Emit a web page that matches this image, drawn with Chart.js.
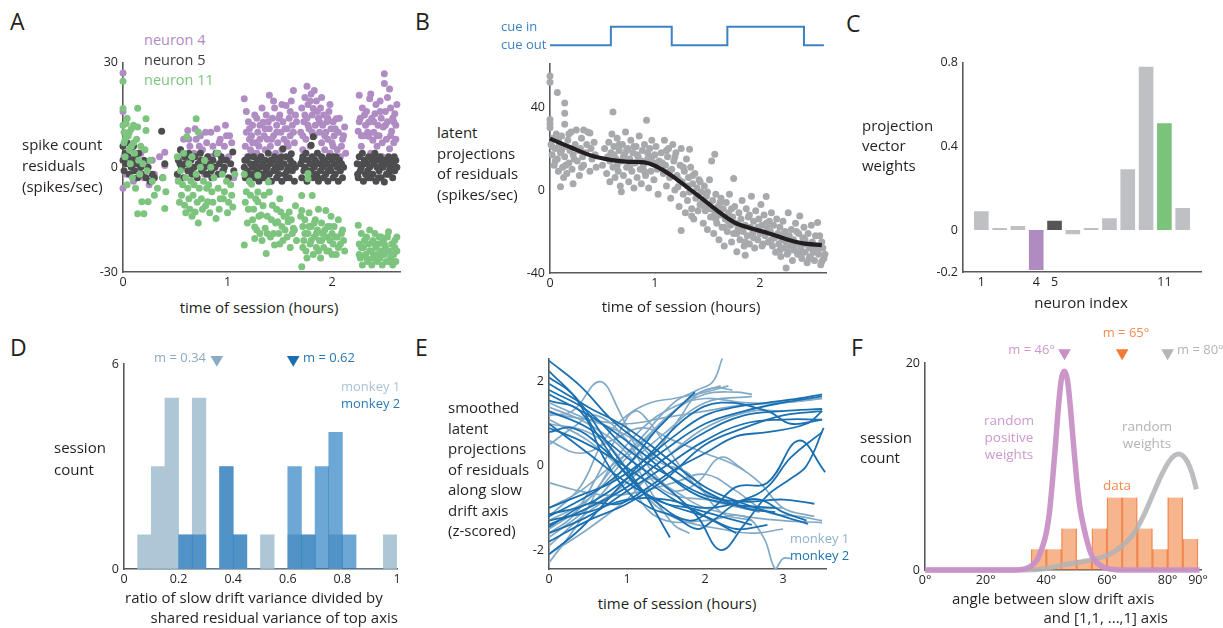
<!DOCTYPE html>
<html><head><meta charset="utf-8">
<script src="https://cdn.jsdelivr.net/npm/chart.js@4.4.1/dist/chart.umd.min.js"></script>
<style>
html,body{margin:0;padding:0;background:#fff;}
body{width:1223px;height:628px;position:relative;overflow:hidden;font-family:'Open Sans',sans-serif;color:#231f20;}
canvas{position:absolute;}
.t{position:absolute;white-space:nowrap;line-height:1.2;}
</style></head><body>
<canvas id="cA"></canvas><canvas id="cCue"></canvas><canvas id="cB"></canvas><canvas id="cC"></canvas>
<canvas id="cD"></canvas><canvas id="cE"></canvas><canvas id="cF"></canvas>
<div id="labels"></div>
<script>
// ---------- Panel A data: [hours, spikes/sec] ----------
const neuron4 = [[0.00,27],[0.00,16],[0.00,-6],[0.01,3],[0.03,-2],[0.05,1],[0.08,5],[0.10,-4],[0.12,2],[0.15,-1],[0.17,4],[0.20,-3],[0.22,1],[0.25,-5],[0.28,2],[0.30,-2],[0.35,3],[0.40,0.5],[0.40,4.3],
[0.53,-3.7],[0.55,5],[0.58,8],[0.60,2],[0.62,10.5],[0.64,6],[0.66,-1],[0.68,4],[0.70,8],[0.72,1],[0.74,9],[0.76,5],[0.78,-2],[0.80,7],[0.82,3],[0.84,10],[0.86,6],[0.88,0],[0.90,11],[0.91,4],[0.93,8],[0.95,-1],[0.97,6],[0.99,9],[1.01,3],[1.04,7],[1.06,-3],
[0.57,4],[0.63,8],[0.69,11],[0.73,6],[0.79,10],[0.85,3],[0.92,7],[0.98,12],[1.02,9],
[1.16,19.6],[1.17,6],[1.18,10],[1.19,3],[1.20,13],[1.21,8],[1.22,5],[1.23,9],[1.24,12],[1.25,4],[1.27,7],[1.28,14],[1.29,10],[1.30,6],[1.31,12],[1.32,3],[1.34,12.9],[1.35,9],[1.36,5],[1.37,15],[1.38,8],[1.40,20.6],[1.40,11],[1.41,6],[1.43,14],[1.44,9],[1.45,17],[1.46,4],[1.47,12],[1.48,7],[1.50,15],[1.51,10],[1.52,5],[1.53,13],[1.54,8],[1.56,17.7],[1.57,11],[1.58,6],[1.59,14],[1.60,9],[1.61,19],[1.62,12],[1.63,22],[1.64,7],[1.65,15],
[1.18,16],[1.21,11],[1.24,7],[1.26,15],[1.28,4],[1.31,8],[1.33,17],[1.36,11],[1.39,13],[1.42,8],[1.44,19],[1.47,10],[1.49,14],[1.52,18],[1.55,11],[1.57,7],[1.60,16],[1.63,10],[1.66,13],
[1.70,10],[1.71,17],[1.72,5],[1.73,13],[1.74,20],[1.75,8],[1.76,23.2],[1.76,14],[1.77,18],[1.78,11],[1.79,6],[1.80,21],[1.81,15],[1.82,16.8],[1.83,9],[1.84,12],[1.85,19],[1.86,4],[1.87,14],[1.88,10],[1.89,17],[1.90,7],[1.91,12],[1.92,15],[1.93,5],[1.94,10],[1.95,13],[1.96,8],[1.97,16],[1.98,4],[1.99,11],[2.00,7],[2.01,13],[2.02,9],[2.04,13.9],[2.05,5],[2.06,10],[2.08,3],[2.10,8],[2.12,11.5],[2.13,4],
[1.72,9],[1.74,15],[1.77,12],[1.79,19],[1.81,10],[1.83,22],[1.86,16],[1.88,13],[1.90,20],[1.93,9],[1.96,14],[1.98,18],[2.01,6],[2.03,11],[2.07,14],[2.09,6],[2.11,9],
[2.25,10.3],[2.26,20.6],[2.27,14],[2.28,6],[2.29,17],[2.30,9],[2.32,12],[2.33,16],[2.35,8.9],[2.35,12.9],[2.36,19.6],[2.37,4],[2.38,14],[2.39,7.7],[2.40,10],[2.41,15.3],[2.42,18],[2.43,6],[2.44,12],[2.45,9],[2.46,19],[2.47,14],[2.48,3],[2.49,11.5],[2.50,26.8],[2.50,24],[2.51,16],[2.52,8],[2.53,13],[2.54,1.5],[2.55,22.4],[2.55,5.3],[2.56,17],[2.57,10.3],[2.58,14],[2.59,7],[2.60,15.3],[2.61,12],[2.62,18],
[2.26,13],[2.28,9],[2.31,15],[2.34,10],[2.37,21],[2.40,13],[2.43,9],[2.46,16],[2.48,7],[2.51,12],[2.53,20],[2.56,9],[2.59,13],[2.61,8]];
const neuron5 = [[0.00,6],[0.00,2],[0.01,-1],[0.02,4],[0.03,1],[0.04,7],[0.05,3],[0.06,-2],[0.07,5],[0.08,0],[0.09,2],[0.10,6],[0.11,-1],[0.12,3],[0.13,1],[0.14,-3],[0.15,4],[0.17,0],[0.18,-2],[0.20,2],[0.22,-3],[0.24,0],[0.26,-4],[0.28,-2],[0.30,-3],[0.37,10.3],[0.38,-3],[0.40,1],
[0.52,-2],[0.53,2],[0.55,5],[0.56,0],[0.58,-3],[0.59,3],[0.60,1],[0.62,-1],[0.63,4],[0.65,2],[0.66,-2],[0.68,0],[0.69,3],[0.71,-3],[0.72,1],[0.74,4],[0.75,-1],[0.77,2],[0.78,0],[0.80,-2],[0.81,3],[0.83,1],[0.85,-3],[0.86,2],[0.88,0],[0.89,4],[0.91,-2],[0.92,1],[0.94,3],[0.96,-1],[0.97,0],[0.99,2],[1.01,-3],[1.03,1],[1.05,4.4],[1.06,-1],
[0.545,1],[0.645,-1],[0.745,2],[0.845,-1],[0.945,2],
[1.16,0],[1.17,-3],[1.18,2],[1.19,-1],[1.20,3],[1.21,-4],[1.22,1],[1.23,-2],[1.24,0],[1.25,3],[1.26,-3],[1.27,1],[1.28,-1],[1.29,2],[1.30,-4],[1.31,0],[1.32,3],[1.33,-2],[1.34,1],[1.35,-3],[1.36,2],[1.37,-1],[1.38,0],[1.39,4],[1.40,-2],[1.41,1],[1.42,-4],[1.43,2],[1.44,-1],[1.45,3],[1.46,0],[1.47,-3],[1.48,1],[1.49,-2],[1.50,2],[1.51,0],[1.52,-4],[1.53,5.3],[1.54,1],[1.55,-2],[1.56,3],[1.57,-1],[1.58,0],[1.59,-3],[1.60,2],[1.61,3.9],[1.62,-1],[1.63,1],[1.64,-4],[1.65,0],
[1.165,2],[1.215,-2],[1.265,1],[1.315,-2],[1.365,0],[1.415,2],[1.465,-1],[1.515,3],[1.565,-3],[1.615,1],
[1.70,1],[1.71,-3],[1.72,3],[1.73,-1],[1.74,0],[1.75,4],[1.76,-4],[1.77,2],[1.78,-2],[1.79,1],[1.80,6.3],[1.80,-1],[1.81,3],[1.82,8.7],[1.82,-3],[1.83,0],[1.84,2],[1.85,-2],[1.86,4],[1.87,-4],[1.88,1],[1.89,-1],[1.90,3],[1.91,0],[1.92,-3],[1.93,2],[1.94,-2],[1.95,1],[1.96,-4],[1.97,3],[1.98,0],[1.99,-1],[2.00,2],[2.01,-3],[2.02,1],[2.03,-2],[2.04,3],[2.05,0],[2.06,-4],[2.07,2],[2.08,-1],[2.09,1],[2.10,-3],[2.11,0],
[1.715,2],[1.765,-1],[1.815,1],[1.865,-3],[1.915,2],[1.965,-1],[2.015,3],[2.065,1],
[2.24,1],[2.25,-3],[2.26,3],[2.27,-1],[2.28,0],[2.29,4],[2.30,-4],[2.31,2],[2.32,-2],[2.33,1],[2.34,-1],[2.35,3],[2.36,0],[2.37,-3],[2.38,2],[2.39,-2],[2.40,1],[2.41,4],[2.42,-4],[2.43,0],[2.44,2],[2.45,-1],[2.46,3],[2.47,-3],[2.48,1],[2.49,0],[2.50,-4.2],[2.51,2],[2.52,-2],[2.53,1],[2.54,3],[2.55,-1],[2.56,0],[2.57,2],[2.58,-3],[2.59,1],[2.60,-1],[2.61,2],[2.62,0],
[2.245,-2],[2.295,1],[2.345,-3],[2.395,3],[2.445,-3],[2.495,2],[2.545,-2],[2.595,3]];
const neuron11 = [[0.00,24.6],[0.00,16.8],[0.00,12],[0.01,10],[0.01,7],[0.02,3],[0.03,12.5],[0.04,-5],[0.05,9],[0.06,5],[0.07,1],[0.08,11],[0.09,-3],[0.10,7],[0.11,4],[0.12,-6],[0.14,16.9],[0.14,11.5],[0.14,-13.3],[0.15,2],[0.16,-2],[0.18,-9.9],[0.20,-13.3],[0.21,5],[0.22,13.9],[0.22,10.5],[0.23,-1],[0.24,-9.9],[0.26,2],[0.28,-4],[0.30,-8],[0.33,-6],[0.38,-3],[0.40,-11.8],[0.41,-7],
[0.02,8],[0.04,14],[0.06,10],[0.08,6],[0.10,12],[0.13,8],[0.17,6],[0.19,1],
[0.52,3],[0.53,-4],[0.55,-1],[0.56,-8],[0.58,4],[0.59,-10.9],[0.60,-3],[0.61,8.7],[0.62,-6],[0.63,1],[0.64,-12],[0.65,-4],[0.66,3],[0.67,-8],[0.69,-12.8],[0.70,13.9],[0.70,-2],[0.72,10.1],[0.72,-16],[0.73,-6],[0.74,0],[0.75,-9],[0.77,-4],[0.78,2],[0.79,-11],[0.81,-9.9],[0.82,-5],[0.84,0],[0.85,-7],[0.87,-3],[0.89,-14.7],[0.90,4],[0.91,-6],[0.93,-9],[0.95,-2],[0.97,-7],[0.99,-4],[1.01,-10],[1.03,-5],[1.05,-11.4],[1.07,-2],
[0.54,-10],[0.57,-5],[0.60,-13],[0.63,-9],[0.66,-14],[0.68,-5],[0.71,-10],[0.76,-12],[0.80,-6],[0.83,-13],[0.86,-10],[0.92,-12],[0.96,-9],[1.00,-13],[1.04,-8],
[1.16,-22.3],[1.16,-2],[1.18,-7],[1.20,-12],[1.21,-4],[1.23,-4.9],[1.24,-15],[1.26,-20.4],[1.26,-17.1],[1.27,-9],[1.29,-2.3],[1.29,-7.1],[1.29,-9.9],[1.31,-19],[1.32,-13.7],[1.34,-11],[1.36,-17.5],[1.37,-24.7],[1.38,-14],[1.39,-4.2],[1.40,-7.1],[1.41,-20],[1.43,-10.9],[1.45,-22.3],[1.46,-16],[1.48,-15.6],[1.49,-19],[1.50,-9],[1.51,-12.8],[1.53,-21],[1.55,-18],[1.56,-14],[1.58,-15.6],[1.59,-12.8],[1.60,-23],[1.62,-19],[1.63,-17.5],[1.65,-11],[1.66,-21],
[1.17,-10],[1.19,-16],[1.22,-8],[1.25,-12],[1.28,-18],[1.30,-14],[1.33,-21],[1.35,-8],[1.38,-19],[1.42,-15],[1.44,-19],[1.47,-12],[1.50,-22],[1.52,-17],[1.54,-14],[1.57,-20],[1.61,-15],[1.64,-18],
[1.71,-8.1],[1.71,-12.4],[1.71,-28.5],[1.72,-17],[1.73,-21],[1.74,-15],[1.75,-24],[1.77,-1.8],[1.77,-3.3],[1.77,-19],[1.78,-13],[1.79,-22],[1.80,-17],[1.81,-8.1],[1.82,-25],[1.83,-20],[1.84,-15],[1.85,-23],[1.86,-18],[1.87,-12],[1.88,-21],[1.89,-26],[1.90,-16],[1.91,-19],[1.92,-23],[1.94,-12.4],[1.95,-20],[1.96,-17],[1.97,-24],[1.98,-21],[1.99,-14],[2.00,-19],[2.01,-22],[2.02,-17],[2.04,-25],[2.05,-20],[2.06,-15],[2.08,-22],[2.10,-18],[2.12,-24],
[1.70,-14],[1.72,-23],[1.74,-19],[1.76,-26],[1.78,-17],[1.80,-21],[1.83,-16],[1.85,-19],[1.87,-24],[1.90,-21],[1.93,-18],[1.95,-24],[1.98,-17],[2.00,-25],[2.03,-20],[2.06,-23],[2.09,-19],[2.11,-21],
[2.25,-16.6],[2.26,-22],[2.27,-26],[2.28,-19],[2.29,-28],[2.30,-23],[2.32,-25],[2.33,-20],[2.34,-27],[2.35,-22],[2.36,-18],[2.37,-24],[2.38,-28],[2.39,-21],[2.40,-25],[2.41,-19],[2.42,-23],[2.43,-27],[2.44,-22],[2.45,-20],[2.46,-26],[2.47,-24],[2.48,-28],[2.49,-21],[2.50,-25],[2.51,-23],[2.52,-27],[2.53,-20],[2.54,-18.5],[2.55,-24],[2.56,-26],[2.57,-22],[2.58,-28],[2.59,-25],[2.60,-21],[2.61,-27],[2.62,-24],
[2.26,-25],[2.28,-23],[2.31,-21],[2.33,-26],[2.36,-24],[2.39,-26],[2.41,-22],[2.44,-25],[2.47,-20],[2.50,-22],[2.52,-24],[2.55,-27],[2.57,-25],[2.60,-23],[2.62,-20]];
const aXTicks = [0,1,2];
const aYTicks = [-30,0,30];

// ---------- Panel B data ----------
const latentPoints = [[0.00,55],[0.00,52],[0.00,34],[0.00,32],[0.00,30],[0.01,22],[0.02,17],[0.03,25],[0.04,12],[0.05,20],[0.06,27],[0.07,47],[0.07,15],[0.08,9],[0.09,22],[0.10,18],[0.10,1.6],[0.11,26],[0.12,11],[0.13,6],[0.14,42],[0.14,37],[0.14,31.7],[0.14,16],[0.15,21],[0.16,8],[0.17,24],[0.18,13],[0.19,19],[0.20,28],[0.21,10],[0.22,3],[0.22,17],[0.24,22],[0.25,29],[0.26,14],[0.28,7],[0.29,20],[0.30,25],[0.30,10.9],[0.32,29],[0.32,12],[0.34,18],[0.36,28],[0.38,9],[0.38,27.5],[0.40,15],[0.42,23],[0.44,11],
[0.02,21],[0.05,14],[0.08,24],[0.11,19],[0.15,12],[0.18,27],[0.23,15],[0.27,19],[0.31,16],[0.35,22],[0.39,20],[0.43,17],
[0.50,12],[0.52,20],[0.54,8],[0.55,16],[0.56,23],[0.57,4],[0.58,18],[0.59,27],[0.60,37.6],[0.60,11],[0.61,21],[0.62,6],[0.63,15],[0.64,25],[0.65,9],[0.66,19],[0.67,2],[0.68,-0.8],[0.68,14],[0.69,22],[0.70,7],[0.71,17],[0.72,28],[0.73,11],[0.74,20],[0.75,4],[0.76,15],[0.77,24],[0.78,9],[0.79,18],[0.80,1],[0.81,13],[0.82,21],[0.83,6],[0.84,16],[0.85,26],[0.86,10],[0.87,3],[0.88,19],[0.89,12],[0.90,22],[0.91,7],[0.92,33.7],[0.93,15],[0.94,1],[0.95,20],[0.96,9],[0.97,24],[0.98,13],[0.99,5],[1.00,17],[1.01,21],[1.02,10],[1.03,-2],[1.04,14],
[0.57,14],[0.61,17],[0.64,12],[0.66,22],[0.70,16],[0.73,19],[0.76,11],[0.80,21],[0.83,17],[0.87,14],[0.90,9],[0.93,18],[0.97,16],[1.01,13],
[1.06,18],[1.08,8],[1.09,24],[1.10,12],[1.11,2],[1.12,16],[1.13,20],[1.14,6],[1.15,-4],[1.16,10],[1.17,22],[1.18,14],[1.19,0],[1.20,18],[1.21,7],[1.22,1.6],[1.23,-8],[1.24,12],[1.25,20],[1.25,-19.5],[1.26,4],[1.27,-2],[1.28,9],[1.29,-11],[1.30,15],[1.31,-5],[1.32,6],[1.33,19.6],[1.33,-1],[1.34,11],[1.35,-9],[1.35,-12.5],[1.36,3],[1.37,-14],[1.38,8],[1.39,-4],[1.40,1],[1.41,-10],[1.42,5],[1.43,-7],[1.44,-1],
[1.07,13],[1.11,19],[1.14,9],[1.19,16],[1.23,5],[1.27,11],[1.31,2],[1.36,7],[1.40,-3],[1.43,4],
[1.45,-6],[1.46,-16],[1.47,2],[1.48,-10],[1.49,-3],[1.50,-19],[1.51,-8],[1.52,5],[1.53,-13],[1.54,14],[1.55,-5],[1.56,-21],[1.57,17.3],[1.57,-11],[1.58,-2],[1.59,-16],[1.60,-8],[1.61,-24],[1.62,-12],[1.63,-4],[1.64,-18],[1.65,-9],[1.66,-27],[1.67,-14],[1.68,-6],[1.69,-20],[1.70,-11],[1.71,-2],[1.72,-17],[1.73,-25],[1.74,-13],[1.75,5.5],[1.75,-21],[1.76,-8],[1.77,-16],[1.78,-29.8],[1.79,-19],[1.80,-11],[1.81,-24],[1.82,-14],[1.83,-5],[1.84,-20],[1.85,-27],[1.86,-31.4],[1.86,-17],[1.87,-9],[1.88,-22],[1.89,-13],[1.90,-26],[1.91,-18],[1.92,-3],[1.93,-21],[1.94,-15],[1.95,-28],[1.96,-10],[1.97,-19],[1.98,-24],[1.99,-14],[2.00,-21],[2.01,-7],[2.02,-17],[2.03,-26],[2.04,-12],[2.05,-22],[2.06,-3.1],[2.07,-18],[2.08,-25],[2.09,-15],
[1.47,-8],[1.50,-1],[1.53,-9],[1.58,-14],[1.62,-6],[1.66,-18],[1.70,-15],[1.73,-9],[1.78,-21],[1.82,-19],[1.86,-25],[1.90,-12],[1.94,-23],[1.98,-18],[2.02,-27],[2.06,-16],
[2.10,-20],[2.11,-11],[2.12,-27],[2.13,-17],[2.14,-23],[2.15,-30],[2.16,-14],[2.17,-21],[2.18,-26],[2.19,-18],[2.20,-32],[2.21,-24],[2.22,-15],[2.23,-28],[2.24,-20],[2.25,-37.6],[2.25,-25],[2.26,-31],[2.27,-11],[2.28,-22],[2.29,-27],[2.30,-19],[2.31,-34],[2.32,-24],[2.33,-29],[2.34,-16],[2.35,-26],[2.36,-31],[2.37,-21],[2.38,-12.5],[2.39,-28],[2.40,-33],[2.41,-23],[2.42,-18],[2.43,-30],[2.44,-26],[2.45,-35],[2.46,-21],[2.47,-28],[2.48,-32],[2.49,-17],[2.50,-25],[2.51,-30],[2.52,-34],[2.53,-22],[2.54,-27],[2.55,-15.7],[2.56,-31],[2.57,-22],[2.58,-36],[2.59,-34.5],[2.60,-28],[2.61,-33],
[2.11,-24],[2.15,-22],[2.19,-29],[2.23,-21],[2.27,-30],[2.31,-27],[2.35,-20],[2.39,-31],[2.43,-24],[2.47,-33],[2.51,-27],[2.55,-29],[2.59,-25],[2.62,-31]];
const smoothTimes = [0,0.2,0.4,0.59,0.75,0.9,1.0,1.16,1.29,1.44,1.6,1.76,1.92,2.08,2.24,2.4,2.59];
const smoothValues = [24.8,20.5,16.5,14.4,13.6,13.3,11.7,6.9,2.0,-3.8,-10.2,-15.7,-18.5,-20.8,-23.5,-25.6,-26.6];
const bXTicks = [0,1,2];
const bYTicks = [-40,0,40];
const cueTimes = [0,0.58,1.16,1.69,2.42,2.61];
const cueStates = [0,1,0,1,0,0];
const cueLabels = ['cue out','cue in'];

// ---------- Panel C data ----------
const neuronIndex = [1,2,3,4,5,6,7,8,9,10,11,12];
const projWeights = [0.09,0.01,0.02,-0.19,0.045,-0.02,0.01,0.057,0.29,0.78,0.51,0.105];
const cXTicks = [1,4,5,11];
const cYTicks = [-0.2,0,0.4,0.8];

// ---------- Panel D data ----------
const ratioBinCenters = [0.075,0.125,0.175,0.225,0.275,0.325,0.375,0.425,0.475,0.525,0.575,0.625,0.675,0.725,0.775,0.825,0.875,0.925,0.975];
const monkey1Counts = [1,3,5,1,5,0,3,1,0,1,0,1,1,0,1,0,0,0,1];
const monkey2Counts = [0,0,0,1,1,0,3,1,0,0,0,3,1,3,4,1,0,0,0];
const monkey1Median = 0.34, monkey2Median = 0.62;
const dXTicks = [0,0.2,0.4,0.6,0.8,1];
const dYTicks = [0,6];

// ---------- Panel E data: smoothed latent curves [hours, z] ----------
const monkey2Curves = [
 [[0,2.5],[0.4,1.9],[0.8,1.1],[1.2,0.5],[1.6,-0.1],[2.0,-0.6],[2.5,-1.0],[2.9,-1.1]],
 [[0,2.25],[0.4,1.5],[0.8,0.4],[1.2,-0.6],[1.55,-1.7]],
 [[0,1.95],[0.5,1.4],[1.0,0.9],[1.5,0.2],[2.0,-0.5],[2.5,-0.9],[3.0,-1.2],[3.32,-1.38]],
 [[0,1.7],[0.6,1.1],[1.2,0.3],[1.8,-0.6],[2.3,-0.9],[2.9,-1.0]],
 [[0,1.8],[0.5,1.3],[1.0,0.4],[1.5,-0.2],[2.0,-0.7],[2.5,-0.85],[3.0,-0.8],[3.4,-0.9]],
 [[0,1.3],[0.5,0.9],[1.0,0.2],[1.5,-0.5],[1.9,-1.2],[2.2,-2.0],[2.5,-1.4],[2.8,-0.7],[3.1,-0.3],[3.3,0.0],[3.52,0.9]],
 [[0,0.9],[0.4,0.6],[0.8,0.2],[1.2,-0.3],[1.6,-0.8],[2.0,-1.2],[2.4,-1.6]],
 [[0,1.0],[0.5,0.3],[1.0,-0.4],[1.5,-0.9],[2.0,-1.2],[2.4,-1.5],[2.8,-1.4]],
 [[0,0.8],[0.3,0.9],[0.7,0.4],[1.0,-0.2],[1.4,-0.9],[1.8,-1.3],[2.1,-1.0],[2.4,-0.5],[2.8,-0.4],[3.2,0.6],[3.54,-0.15]],
 [[0,-1.15],[0.5,-0.9],[1.0,-0.3],[1.5,0.4],[2.0,1.0],[2.5,1.3],[3.0,1.5],[3.5,1.65]],
 [[0,-1.4],[0.5,-1.0],[1.0,-0.5],[1.5,0.2],[2.0,0.8],[2.5,1.2],[3.0,1.3],[3.5,1.35]],
 [[0,-1.6],[0.5,-1.2],[1.0,-0.6],[1.5,0.0],[2.0,0.6],[2.5,1.0],[3.0,1.1],[3.5,1.1]],
 [[0,-1.8],[0.5,-1.3],[1.0,-0.9],[1.5,-0.3],[2.0,0.5],[2.5,0.9],[3.0,1.2],[3.5,1.3]],
 [[0,-2.1],[0.4,-1.5],[0.9,-0.5],[1.3,0.3],[1.8,1.2],[2.2,1.5],[2.8,1.3],[3.1,1.0],[3.5,1.1]],
 [[0,-1.3],[0.5,-1.1],[1.0,-0.8],[1.5,-0.8],[2.0,-1.0],[2.5,-0.8],[2.8,-0.5],[3.1,0.2],[3.5,0.8]],
 [[0,-1.2],[0.6,-0.6],[1.0,0.0],[1.4,0.9],[1.87,1.75]],
 [[0,-1.45],[0.5,-0.9],[0.9,-0.9],[1.2,-0.6],[1.6,-0.1],[2.0,0.3],[2.4,0.7],[2.8,0.8],[3.3,1.0],[3.5,1.3]],
 [[0,2.1],[0.3,1.7],[0.6,0.8],[0.9,0.0],[1.2,-0.6],[1.5,-0.9],[1.8,-1.0],[2.2,-1.2],[2.6,-1.4]],
 [[0,-1.0],[0.4,-0.7],[0.8,-0.4],[1.2,0.1],[1.6,0.7],[2.0,1.2],[2.4,1.4],[2.8,1.5],[3.2,1.6],[3.5,1.7]],
 [[0,1.55],[0.4,1.3],[0.7,0.2],[1.0,-0.6],[1.3,-1.0],[1.6,-1.2],[1.9,-1.5],[2.1,-1.3],[2.4,-0.9],[2.7,-0.8],[3.0,-1.1],[3.3,-1.3]]
];
const monkey1Curves = [
 [[0,1.2],[0.3,1.3],[0.65,2.0],[0.9,1.3],[1.1,0.5],[1.4,-0.3],[1.7,-0.7],[2.0,-1.0],[2.5,-1.2],[3.0,-1.3],[3.5,-1.35]],
 [[0,-1.5],[0.4,-1.0],[0.8,-0.1],[1.2,0.7],[1.6,1.5],[1.9,1.8],[2.1,2.0],[2.22,2.55]],
 [[0,-1.3],[0.5,-0.8],[1.0,0.2],[1.4,0.9],[1.8,1.6],[2.1,1.85],[2.35,1.8]],
 [[0,-1.7],[0.5,-1.0],[1.0,0.0],[1.5,0.8],[2.0,1.5],[2.6,1.65]],
 [[0,-2.3],[0.4,-1.3],[0.8,0.0],[1.2,0.9],[1.6,1.4],[2.0,1.6],[2.5,1.5],[3.0,1.5],[3.5,1.6]],
 [[0,1.4],[0.5,1.0],[1.0,0.3],[1.3,-0.6],[1.6,-1.4],[1.8,-1.6]],
 [[0,1.0],[0.5,0.8],[0.9,0.2],[1.2,-0.9],[1.5,-1.3],[2.0,-1.3],[2.5,-1.2],[2.75,-1.7],[2.9,-2.45],[3.0,-2.2],[3.1,-2.2]],
 [[0,-0.4],[0.4,-0.6],[0.8,-0.7],[1.2,-0.6],[1.6,-0.4],[2.0,-0.2],[2.4,-0.6],[2.8,-1.1],[3.2,-1.2],[3.5,-1.3]],
 [[0,0.5],[0.3,0.9],[0.6,1.2],[1.0,0.6],[1.3,-0.3],[1.6,-0.7],[2.0,-0.8],[2.5,-1.0],[3.0,-1.0]],
 [[0,-1.2],[0.4,-0.5],[0.7,0.6],[1.0,1.2],[1.3,1.5],[1.6,1.6],[2.0,1.75],[2.3,1.9]],
 [[0,1.25],[0.5,1.1],[1.0,1.0],[1.5,1.15],[2.0,1.3],[2.5,1.45],[3.0,1.5],[3.5,1.6]],
 [[0,-1.9],[0.5,-1.1],[1.0,-0.5],[1.5,0.2],[2.0,0.9],[2.6,1.3],[3.0,1.3]],
 [[0,1.1],[0.5,0.6],[1.0,-0.2],[1.4,-1.0],[1.7,-1.3],[2.2,-1.5],[2.6,-1.6],[3.0,-1.5]],
 [[0,-1.4],[0.6,-0.9],[1.0,-0.4],[1.4,0.4],[1.7,1.2],[1.9,1.7],[2.2,1.9]],
 [[0,0.6],[0.4,0.3],[0.8,0.6],[1.2,0.9],[1.6,0.6],[2.0,0.3],[2.4,0.0],[2.7,-0.4],[3.0,-1.0],[3.4,-1.2]],
 [[0,-2.1],[0.5,-1.5],[1.0,-0.8],[1.3,-0.3],[1.6,-0.6],[1.9,-0.4],[2.2,0.2],[2.5,-0.1]],
 [[0,1.5],[0.5,1.1],[0.8,0.9],[1.1,0.6],[1.4,0.1],[1.8,-0.2],[2.2,-1.1],[2.6,-1.3]],
 [[0,-1.6],[0.3,-1.2],[0.6,-0.3],[0.9,0.8],[1.1,1.3],[1.3,1.0],[1.6,0.2],[1.9,-0.5],[2.3,-0.9],[2.7,-1.1]],
 [[0,-1.0],[0.4,-0.6],[0.8,0.0],[1.2,0.6],[1.6,1.3],[2.0,1.7],[2.4,1.75],[2.6,1.7]]
];
const eXTicks = [0,1,2,3];
const eYTicks = [-2,0,2];

// ---------- Panel F data ----------
const angleBinCenters = [37.5,42.5,47.5,52.5,57.5,62.5,67.5,72.5,77.5,82.5,87.5];
const angleCounts = [2,2,4,1,4,7,7,4,2,7,3];
const posWeightAngles = [0,30,33,35,37,39,40,41,42,43,44,45,46,47,48,49,50,51,52,53,54,55,56,58,60,63,66,90.5];
const posWeightCounts = [0,0,0.1,0.4,1,2.5,3.6,5.5,8.5,12,15.8,18.5,19.2,18.3,15.5,12,8.8,6.2,4.6,3.3,2.2,1.4,0.9,0.4,0.15,0.03,0,0];
const randWeightAngles = [0,33,40,45,50,55,60,63,66,69,72,75,78,81,83.5,86,88,89.5];
const randWeightCounts = [0,0,0.15,0.45,0.7,1.0,1.4,1.9,2.6,3.6,5.2,7.2,9.2,10.7,11.2,10.7,9.4,7.8];
const medianData = 65, medianPos = 46, medianRand = 80;
const fXTicks = [0,20,40,60,80,90];
const fYTicks = [0,20];

// ---------- helpers ----------
Chart.defaults.font.family = "'Open Sans', sans-serif";
Chart.defaults.font.size = 12.5;
Chart.defaults.color = '#231f20';
const xy = arr => arr.map(p => ({x:p[0], y:p[1]}));
const zip = (xs, ys) => xs.map((x,i) => ({x, y:ys[i]}));
function place(id, left, top, w, h){
  const c = document.getElementById(id);
  c.width = w; c.height = h;
  Object.assign(c.style, {left:left+'px', top:top+'px', width:w+'px', height:h+'px'});
  return c;
}
const AXIS = {display:true, color:'#58595b', width:1.6};
function lin(min, max, ticks, size, isX, fmt, extra){
  return Object.assign({
    type:'linear', min, max, offset:false,
    grid:{display:false, drawTicks:false},
    border:AXIS,
    ticks:{padding: isX ? 3 : 5, autoSkip:false, maxRotation:0, color:'#231f20', font:{size:12.5},
      callback: v => fmt ? fmt(v) : String(v)},
    afterBuildTicks: s => { s.ticks = ticks.map(v => ({value:v})); },
    afterFit: s => { if (isX) s.height = size; else s.width = size; }
  }, extra || {});
}
function base(pad, scales){
  return {responsive:false, animation:false, events:[],
    layout:{padding:pad},
    plugins:{legend:{display:false}, tooltip:{enabled:false}},
    scales};
}
const dot = (color, order) => ({backgroundColor:color, borderWidth:0, pointRadius:3.5, order, clip:false});

// ---------- Panel A ----------
new Chart(place('cA', 83, 50, 331, 246), {
  type:'scatter',
  data:{datasets:[
    Object.assign({data:xy(neuron11)}, dot('#7dc47f',0)),
    Object.assign({data:xy(neuron5)}, dot('#4d4d4f',1)),
    Object.assign({data:xy(neuron4)}, dot('#b08cc4',2))
  ]},
  options: base({left:0,right:14,top:12,bottom:0}, {
    x: lin(0, 2.65, aXTicks, 24, true),
    y: lin(-30, 30, aYTicks, 40, false)
  })
});

// ---------- Panel B ----------
new Chart(place('cB', 510, 51, 330, 246), {
  type:'scatter',
  data:{datasets:[
    {type:'line', data:zip(smoothTimes, smoothValues), borderColor:'#231f20', borderWidth:4.2, pointRadius:0, tension:0.4, cubicInterpolationMode:'monotone', clip:false},
    Object.assign({data:xy(latentPoints)}, dot('#a7a9ac',1))
  ]},
  options: base({left:0,right:14,top:12,bottom:0}, {
    x: lin(0, 2.63, bXTicks, 24, true),
    y: lin(-40, 61, bYTicks, 40, false)
  })
});

// cue in / cue out step trace
{
  const yCue = lin(0, 1, [0,1], 49, false, v => cueLabels[v]);
  yCue.border = {display:false};
  yCue.ticks.crossAlign = 'far';
  yCue.ticks.color = '#3c82c4';
  yCue.ticks.font = {size:13};
  const xCue = lin(0, 2.63, [], 0, true);
  xCue.display = false;
  new Chart(place('cCue', 501, 14, 339, 44), {
    type:'line',
    data:{datasets:[{data:zip(cueTimes, cueStates), stepped:'before', borderColor:'#3c82c4', borderWidth:2, pointRadius:0, clip:false}]},
    options: base({left:0,right:14,top:12,bottom:12}, {x:xCue, y:yCue})
  });
}

// ---------- Panel C ----------
const barColors = neuronIndex.map(i => i===4 ? '#af8bc2' : i===5 ? '#555557' : i===11 ? '#7bc27b' : '#bfc0c3');
new Chart(place('cC', 921, 50, 292, 246), {
  type:'bar',
  data:{datasets:[{data:zip(neuronIndex, projWeights), backgroundColor:barColors, borderWidth:0, barPercentage:0.8, categoryPercentage:1}]},
  options: base({left:0,right:12,top:12,bottom:0}, {
    x: lin(0, 13, cXTicks, 24, true),
    y: lin(-0.2, 0.8, cYTicks, 42, false)
  })
});

// ---------- Panel D ----------
const tri = (x, y, color) => ({type:'line', showLine:false, data:[{x, y}], pointStyle:'triangle', rotation:180, pointRadius:7.3, pointHoverRadius:16, backgroundColor:color, borderWidth:0, clip:false});
new Chart(place('cD', 84, 348, 329, 245), {
  type:'bar',
  data:{datasets:[
    tri(monkey2Median, 6.13, '#1b6eae'),
    tri(monkey1Median, 6.13, '#8aabc3'),
    {data:zip(ratioBinCenters, monkey2Counts), backgroundColor:'rgba(30,120,190,0.65)', borderWidth:0, grouped:false, barPercentage:1, categoryPercentage:1},
    {data:zip(ratioBinCenters, monkey1Counts), backgroundColor:'rgb(174,199,215)', borderWidth:0, grouped:false, barPercentage:1, categoryPercentage:1}
  ]},
  options: base({left:0,right:14,top:12,bottom:0}, {
    x: lin(0, 1, dXTicks, 24, true),
    y: lin(0, 6, dYTicks, 40, false)
  })
});

// ---------- Panel E ----------
const curve = (c, color, w) => ({type:'line', data:xy(c), borderColor:color, borderWidth:w, pointRadius:0, tension:0.4, clip:false});
new Chart(place('cE', 509, 346, 331, 247), {
  type:'scatter',
  data:{datasets:[
    ...monkey2Curves.map(c => curve(c, 'rgb(26,112,176)', 1.8)),
    ...monkey1Curves.map(c => curve(c, 'rgb(130,170,199)', 1.7))
  ]},
  options: base({left:0,right:14,top:12,bottom:0}, {
    x: lin(0, 3.55, eXTicks, 24, true),
    y: lin(-2.45, 2.55, eYTicks, 40, false)
  })
});

// ---------- Panel F ----------
new Chart(place('cF', 885, 347, 332, 247), {
  type:'bar',
  data:{datasets:[
    tri(medianPos, 20.97, '#c98fc6'),
    tri(medianData, 20.97, '#f27b38'),
    tri(medianRand, 20.97, '#b5b5b7'),
    {type:'line', data:zip(posWeightAngles, posWeightCounts), borderColor:'rgba(200,145,198,0.95)', borderWidth:5.5, pointRadius:0, cubicInterpolationMode:'monotone', clip:false},
    {type:'line', data:zip(randWeightAngles, randWeightCounts), borderColor:'rgba(178,178,182,0.85)', borderWidth:5, pointRadius:0, cubicInterpolationMode:'monotone', clip:false},
    {data:zip(angleBinCenters, angleCounts), backgroundColor:'rgba(240,120,50,0.55)', borderColor:'rgba(235,110,45,0.75)', borderWidth:{left:0.7,right:0.7,top:0,bottom:0}, barPercentage:1, categoryPercentage:1}
  ]},
  options: base({left:0,right:14,top:12,bottom:0}, {
    x: lin(0, 91, fXTicks, 24, true, v => v + '°'),
    y: lin(0, 20, fYTicks, 40, false)
  })
});

// ---------- text ----------
const L = document.getElementById('labels');
function txt(s, x, y, size, color, align){
  const d = document.createElement('div');
  d.className = 't'; d.textContent = s;
  const tx = align === 'r' ? '-100%' : align === 'c' ? '-50%' : '0';
  Object.assign(d.style, {left:x+'px', top:(y-2)+'px', fontSize:size+'px', color:color||'#231f20', transform:`translate(${tx},-50%)`});
  L.appendChild(d);
}
function lines(arr, x, y0, step, size, color, align){ arr.forEach((s,i) => txt(s, x, y0 + i*step, size, color, align)); }
const INK = '#231f20';
// panel letters
txt('A', 10, 24, 23, INK); txt('B', 415, 24, 23, INK); txt('C', 846, 26, 23, INK);
txt('D', 10, 350, 23, INK); txt('E', 415, 350, 23, INK); txt('F', 851, 350, 23, INK);
// A
txt('neuron 4', 144, 42, 14.5, '#b08cc4'); txt('neuron 5', 144, 62, 14.5, '#3d3d3f'); txt('neuron 11', 144, 82, 14.5, '#7dc47f');
lines(['spike count','residuals','(spikes/sec)'], 22, 146, 21, 15, INK);
txt('time of session (hours)', 259, 309, 15, INK, 'c');
// B
lines(['latent','projections','of residuals','(spikes/sec)'], 437, 134, 20.6, 15, INK);
txt('time of session (hours)', 681, 308, 15, INK, 'c');
// C
lines(['projection','vector','weights'], 862, 127, 20, 15, INK);
txt('neuron index', 1081, 304, 15, INK, 'c');
// D
txt('m = 0.34', 206, 360, 13, '#8aabc3', 'r'); txt('m = 0.62', 303, 360, 13, '#2878b7');
txt('monkey 1', 341, 389, 13, '#a9c3d5'); txt('monkey 2', 341, 406, 13, '#2a7ab8');
lines(['session','count'], 54, 449, 21.5, 15, INK);
txt('ratio of slow drift variance divided by', 125, 599, 15, INK);
txt('shared residual variance of top axis', 398, 619, 15, INK, 'r');
// E
lines(['smoothed','latent','projections','of residuals','along slow','drift axis','(z-scored)'], 448, 409, 20.5, 15, INK);
txt('time of session (hours)', 677, 605, 15, INK, 'c');
txt('monkey 1', 790, 541, 13, '#8fb1ca'); txt('monkey 2', 790, 558, 13, '#1f73b2');
// F
lines(['session','count'], 860, 439, 19.5, 15, INK);
txt('m = 46°', 1055, 352, 13, '#cc99cc', 'r'); txt('m = 65°', 1126, 335, 13, '#f58b4c', 'c'); txt('m = 80°', 1177, 352, 13, '#b3b3b3');
lines(['random','positive','weights'], 1009, 422, 17, 13.5, '#cc99cc', 'c');
lines(['random','weights'], 1147, 428, 17, 13.5, '#b3b3b3', 'c');
txt('data', 1117, 487, 13.5, '#f58b4c', 'c');
txt('angle between slow drift axis', 952, 600, 15, INK);
txt('and [1,1, ...,1] axis', 1168, 619, 15, INK, 'r');
</script>
</body></html>
